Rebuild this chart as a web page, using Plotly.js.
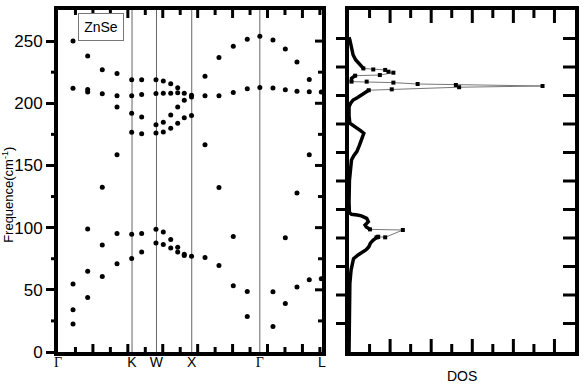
<!DOCTYPE html>
<html>
<head>
<meta charset="utf-8">
<script src="https://cdn.plot.ly/plotly-3.0.1.min.js"></script>
<style>html,body{margin:0;padding:0;background:#fff;}#chart{width:583px;height:384px;}</style>
</head>
<body>
<div id="chart"></div>
<script>
// ---- high-symmetry path (distance along k-path, 2π/a units) ----
const kPathPos = [0, 1.06, 1.41, 1.915, 2.89, 3.78];
const kPathLbl = ['Γ', 'K', 'W', 'X', 'Γ', 'L'];

// ---- phonon dispersion: k positions of sampled columns ----
const bandK = [0.215, 0.425, 0.634, 0.845, 1.055, 1.198, 1.403, 1.508, 1.614, 1.714, 1.808, 1.912,
               2.105, 2.305, 2.51, 2.71, 2.89, 3.078, 3.255, 3.422, 3.598, 3.77];
// frequencies (cm^-1) read at each column
const bandF = [
  [250, 212, 54.6, 34, 22.5],
  [238, 211, 209, 99, 65, 43.9],
  [227, 207.6, 132.4, 86.1, 60.7],
  [224, 206, 197, 158.7, 95.2, 70.9],
  [219, 206, 192, 176.6, 94.7, 75.2],
  [219, 207, 189, 175.5, 95.2, 80.5],
  [219, 207.9, 182.7, 176, 98.7, 87.7],
  [218, 208, 184.8, 177, 96.5, 86.4],
  [215.6, 208, 190.5, 180, 90.4, 83.7],
  [212.4, 208.5, 197, 184, 84.3, 80.5],
  [208, 202.5, 188.3, 78.6, 77.6],
  [206.5, 205, 190.2, 77],
  [221.7, 206, 166.7, 76],
  [236.8, 206, 132.2, 69.6],
  [245.8, 208.7, 92.8, 53.2],
  [251.5, 211.6, 48.7, 28.6],
  [253.9, 212.7],
  [250.8, 212.2, 48.4, 20.6],
  [243.6, 210.8, 91.8, 39],
  [233.2, 209.7, 127.9, 52.2],
  [219.1, 209.2, 158.6, 58],
  [209, 59]
];

// ---- density of states: smooth (densely sampled) part, null = break ----
const dosCurveF = [0, 20, 40, 55, 66, 70, 75, 78, 80, 82, 84.5, 87.5, 90, 92, 92.2, null,
  98.6, 100.5, 102.1, 104.8, 107.5, 109.5, 110.2, 110.7, 112, 120, 138, 150, 154.4, 158, 161.1, 166, 170.5, 174, 175.9, 178, 179.9, 182, 183.9, 190, 197.3, 200, 202.6, 204.5, 206.7, 209.3, 210.5, null,
  217.4, 219, 220, 221, 222.2, null,
  228, 230, 232.1, 235, 238.8, 242.8, 246, 250.9, 253];
const dosCurveD = [0, 0, 0.01, 0.02, 0.05, 0.07, 0.11, 0.22, 0.32, 0.41, 0.48, 0.52, 0.59, 0.67, 0.75, null,
  0.51, 0.42, 0.39, 0.47, 0.43, 0.30, 0.2, 0.06, 0.01, 0, 0.01, 0.04, 0.06, 0.12, 0.19, 0.25, 0.31, 0.35, 0.36, 0.28, 0.19, 0.08, 0.02, 0, 0, 0.04, 0.10, 0.2, 0.31, 0.43, 0.48, null,
  0.06, 0.05, 0.06, 0.10, 0.15, null,
  0.35, 0.29, 0.23, 0.16, 0.10, 0.08, 0.05, 0.02, 0];
// ---- density of states: sparsely sampled peaks ----
const dosPeakF = [92.2, 92.7, 92.2, 98.1, 98.6, null,
  210.5, 211.2, 212.9, 213.9, 214.7, 215.5, 216.6, 217.4, 217.4, null,
  222.2, 222.7, 224.6, 225.4, 226.8, 227.2, 228];
const dosPeakD = [0.67, 0.71, 0.88, 1.31, 0.51, null,
  0.48, 1.04, 2.68, 4.71, 2.60, 1.67, 1.08, 0.43, 0.06, null,
  0.15, 0.75, 1.08, 0.96, 0.88, 0.59, 0.35];

const yRange = [0, 275];
const kRange = [0, 3.78];
const dosRange = [0, 5.5];
const domL = [0, 0.5106], domR = [0.5629, 1];
const bx = [], by = [];
bandK.forEach((k, i) => bandF[i].forEach(f => { bx.push(k); by.push(f); }));
// vertical guide lines at the interior high-symmetry points
const vx = [], vy = [];
kPathPos.slice(1, 5).forEach(k => { vx.push(k, k, null); vy.push(yRange[0], yRange[1], null); });

const FONT = 'Liberation Sans, Arial, sans-serif';
const tickLbl = kPathLbl.map(s => s === 'Γ' ? '<span style="font-family:Liberation Serif">Γ</span>' : s);

// ---- frame tick marks as paper-referenced shapes ----
const W = 583, H = 384, M = {l: 58, r: 8, t: 10, b: 32};
const PW = W - M.l - M.r, PH = H - M.t - M.b;
function steps(r, d) {           // multiples of d strictly inside range r
  const out = [];
  for (let k = 1; r[0] + k * d < r[1] - 1e-6; k++) out.push(r[0] + k * d);
  return out;
}
const isMult = (v, d) => Math.abs(v / d - Math.round(v / d)) < 1e-6;
const toPaper = (dom, r, v) => dom[0] + (v - r[0]) / (r[1] - r[0]) * (dom[1] - dom[0]);
const TK = {color: '#000', width: 3};
const seg = (x0, y0, x1, y1) => ({type: 'line', xref: 'paper', yref: 'paper', x0, y0, x1, y1, line: TK, layer: 'above'});
const shapes = [];
// left panel: bottom & top, inside; major 0.5, minor 0.25
steps(kRange, 0.25).forEach(v => {
  const x = toPaper(domL, kRange, v), len = (isMult(v, 0.5) ? 8 : 5) / PH;
  shapes.push(seg(x, 0, x, len), seg(x, 1, x, 1 - len));
});
// left panel: right side inside (every 25), left-side minor outside
steps(yRange, 25).forEach(v => {
  const y = toPaper([0, 1], yRange, v), major = isMult(v, 50);
  shapes.push(seg(domL[1], y, domL[1] - (major ? 7 : 4) / PW, y));
  if (!major) shapes.push(seg(domL[0], y, domL[0] - 7 / PW, y));
});
// right panel: bottom & top, inside; major 1, minor 0.5
steps(dosRange, 0.5).forEach(v => {
  const x = toPaper(domR, dosRange, v), len = (isMult(v, 1) ? 13 : 8) / PH;
  shapes.push(seg(x, 0, x, len), seg(x, 1, x, 1 - len));
});
// right panel: left outside, right inside; 12 equal divisions
steps(yRange, (yRange[1] - yRange[0]) / 12).forEach(v => {
  const y = toPaper([0, 1], yRange, v);
  shapes.push(seg(domR[0], y, domR[0] - 13 / PW, y), seg(domR[1], y, domR[1] - 12 / PW, y));
});

const traces = [
  {x: vx, y: vy, type: 'scatter', mode: 'lines', xaxis: 'x', yaxis: 'y', line: {color: '#666', width: 1}},
  {x: bx, y: by, type: 'scatter', mode: 'markers', xaxis: 'x', yaxis: 'y', marker: {color: '#000', size: 5}},
  {x: dosPeakD, y: dosPeakF, type: 'scatter', mode: 'lines+markers', xaxis: 'x2', yaxis: 'y2',
   line: {color: '#777', width: 1}, marker: {color: '#000', size: 4, symbol: 'square'}},
  {x: dosCurveD, y: dosCurveF, type: 'scatter', mode: 'lines', xaxis: 'x2', yaxis: 'y2',
   line: {color: '#000', width: 3.5}},
  {x: [null], y: [null], type: 'scatter', mode: 'markers', xaxis: 'x5', yaxis: 'y', marker: {opacity: 0}}
];

const frame = {showline: true, mirror: true, linewidth: 4, linecolor: '#000', showgrid: false, zeroline: false};
const layout = {
  width: W, height: H,
  margin: M,
  showlegend: false,
  font: {family: FONT, color: '#000', size: 14},
  xaxis: Object.assign({}, frame, {domain: domL, range: kRange, anchor: 'y', ticks: '', showticklabels: false}),
  xaxis5: {overlaying: 'x', side: 'bottom', anchor: 'y', range: kRange, showline: false, ticks: '',
    tickmode: 'array', tickvals: kPathPos, ticktext: tickLbl, showgrid: false, zeroline: false,
    tickfont: {size: 14, family: FONT, color: '#000'}},
  yaxis: Object.assign({}, frame, {domain: [0, 1], range: yRange, anchor: 'x', ticks: 'outside', dtick: 50,
    ticklen: 8, tickwidth: 3, tickcolor: '#000', tickfont: {size: 17, family: FONT, color: '#000'}}),
  xaxis2: Object.assign({}, frame, {domain: domR, range: dosRange, anchor: 'y2', ticks: '', showticklabels: false}),
  yaxis2: Object.assign({}, frame, {domain: [0, 1], range: yRange, anchor: 'x2', ticks: '', showticklabels: false}),
  shapes: shapes,
  annotations: [
    {xref: 'x', yref: 'y', x: 0.61, y: 261, text: 'ZnSe', showarrow: false,
     font: {size: 14, family: FONT, color: '#000'}, width: 42, height: 24, borderpad: 1,
     bordercolor: '#777', borderwidth: 1, bgcolor: '#fff'},
    {xref: 'paper', yref: 'paper', x: -0.097, y: 0.459, xanchor: 'center', yanchor: 'middle', textangle: -90,
     showarrow: false, text: 'Frequence(cm<sup>-1</sup>)', font: {size: 13, family: FONT, color: '#000'}},
    {xref: 'paper', yref: 'paper', x: 0.7814, y: -0.07, xanchor: 'center', yanchor: 'middle', showarrow: false,
     text: 'DOS', font: {size: 14, family: FONT, color: '#000'}}
  ]
};

Plotly.newPlot('chart', traces, layout, {staticPlot: true, displayModeBar: false});
</script>
</body>
</html>
